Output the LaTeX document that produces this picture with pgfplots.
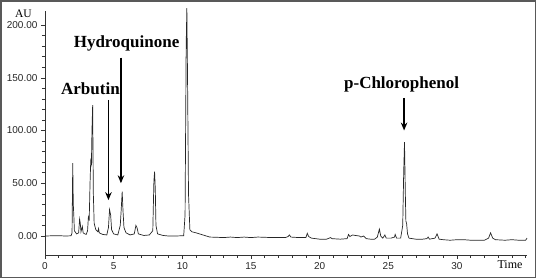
\documentclass[border=0pt]{standalone}
\usepackage{fontspec}
\setmainfont{Liberation Serif}
\newfontfamily\arial{Liberation Sans}
\usepackage{pgfplots}
\pgfplotsset{compat=1.18}
\usetikzlibrary{arrows.meta}
\begin{document}
\begin{tikzpicture}
\useasboundingbox (-45pt,-25pt) rectangle (493pt,255pt);
\draw[line width=1.5pt, black!65] (-44pt,-22.7pt) rectangle (490.5pt,254pt);
\begin{axis}[
  scale only axis, width=482pt, height=244pt,
  xmin=0, xmax=35.1, ymin=-18, ymax=213.3,
  axis x line*=bottom, axis y line*=left,
  axis line style={black!80, line width=0.6pt},
  tick align=outside,
  major tick length=4pt, minor tick length=3pt,
  every tick/.style={black!80, line width=0.5pt},
  xtick={0,5,...,30}, minor xtick={1,2,...,35},
  ytick={0,50,...,200}, minor y tick num=4,
  yticklabel style={/pgf/number format/.cd, fixed, fixed zerofill, precision=2},
  /pgf/number format/assume math mode=true,
  tick label style={font=\arial\fontsize{10}{12}\selectfont, black!85},
  clip=false,
]
\addplot[black!85, line width=0.7pt] coordinates {
(0,0) (0.5,0.2) (1.0,0.3) (1.5,0) (1.9,0.2) (1.97,3) (2.02,69) (2.06,30) (2.10,19) (2.14,5)
(2.3,2) (2.45,3) (2.52,16) (2.57,12) (2.62,4) (2.72,9) (2.78,3) (2.9,2) (3.0,1.5) (3.1,5)
(3.16,18) (3.22,16) (3.28,50) (3.33,71) (3.38,68) (3.42,100) (3.47,124) (3.52,40) (3.58,12) (3.7,6)
(3.85,4) (3.9,7) (3.95,3) (4.2,1.5) (4.5,1) (4.62,8) (4.7,25) (4.78,20) (4.85,6) (5.0,2)
(5.3,1) (5.48,10) (5.55,25) (5.62,42) (5.68,24) (5.75,8) (5.9,3) (6.2,1) (6.5,2) (6.62,10)
(6.7,8) (6.8,2) (7.2,0.5) (7.6,1) (7.85,5) (7.93,52) (7.98,61) (8.03,45) (8.08,10) (8.2,2)
(8.6,0.5) (9.0,0) (9.5,0) (10.1,0.3) (10.2,20) (10.28,180) (10.33,216) (10.38,150) (10.45,40) (10.55,6)
(10.7,4) (11.0,3) (11.5,1) (12.0,-1) (12.5,-1.2) (13.0,-1.5) (13.5,-1) (14.0,-1.5) (14.5,-1) (15.0,-1.5)
(15.5,-1) (16.0,-1.2) (16.5,-1.5) (17.0,-1.5) (17.5,-1.5) (17.7,-0.5) (17.8,1) (17.9,-1) (18.5,-1.5) (19.0,-1.5)
(19.1,2.5) (19.2,-0.5) (19.4,-2) (20.0,-3) (20.5,-3) (20.8,-1.5) (20.9,-2.5) (21.5,-3) (22.0,-2.5) (22.1,1.5)
(22.2,-0.5) (22.4,1) (22.6,0.5) (22.9,0) (23.0,-1) (23.2,0) (23.4,-2.5) (23.7,-3) (24.0,-3) (24.2,-1)
(24.35,6.5) (24.45,0) (24.6,-2) (24.75,1) (24.85,-2) (25.2,-2) (25.45,-1) (25.5,1.5) (25.6,-2) (25.9,-2)
(26.05,10) (26.12,60) (26.18,89) (26.24,40) (26.28,14) (26.33,12) (26.4,2) (26.5,-2) (27.0,-3) (27.5,-3)
(27.8,-2.5) (27.9,-1) (28.0,-3) (28.4,-2) (28.55,2) (28.7,-3) (29.0,-3.5) (29.5,-4) (30.0,-3.5) (30.5,-3.5)
(31.0,-4) (31.5,-4) (32.0,-4) (32.3,-2) (32.45,3) (32.6,-2) (32.8,-3.5) (33.5,-4) (34.0,-3.5) (34.5,-4)
(35.0,-4) (35.1,-2)
};
\draw[line width=1.6pt, -{Stealth[length=8pt,width=6.5pt]}] (axis cs:4.62,129) -- (axis cs:4.62,34);
\draw[line width=1.6pt, -{Stealth[length=8pt,width=6.5pt]}] (axis cs:5.53,169) -- (axis cs:5.53,50);
\draw[line width=1.6pt, -{Stealth[length=8pt,width=6.5pt]}] (axis cs:26.15,131) -- (axis cs:26.15,100);
\node[font=\bfseries\fontsize{17}{19}\selectfont] at (axis cs:5.94,183) {Hydroquinone};
\node[font=\bfseries\fontsize{17}{19}\selectfont] at (axis cs:3.31,139.6) {Arbutin};
\node[font=\bfseries\fontsize{17}{19}\selectfont] at (axis cs:25.97,143.4) {p-Chlorophenol};
\end{axis}
\node[font=\fontsize{11.5}{13}\selectfont] at (-21.5pt,241pt) {AU};
\node[font=\fontsize{12}{14}\selectfont] at (465pt,-10pt) {Time};
\end{tikzpicture}
\end{document}
